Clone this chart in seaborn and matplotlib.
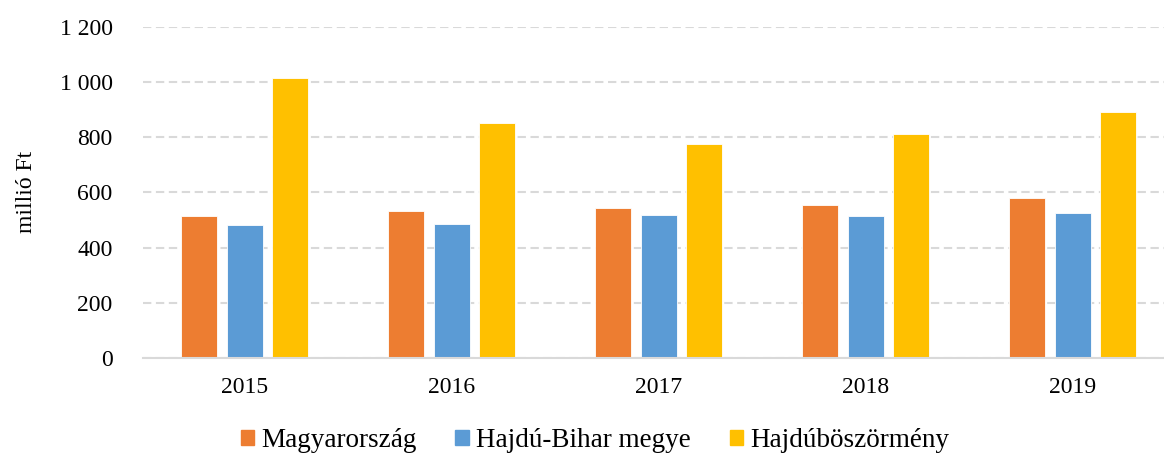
import matplotlib
matplotlib.use("Agg")
import matplotlib.pyplot as plt
import matplotlib.patches as mpatches
import pandas as pd
import seaborn as sns

# ── Data ────────────────────────────────────────────────────────────────────
YEARS = ["2015", "2016", "2017", "2018", "2019"]
SERIES = ["Magyarország", "Hajdú-Bihar megye", "Hajdúböszörmény"]
MAGYARORSZAG = [516, 533, 545, 553, 580]
HAJDU_BIHAR = [482, 487, 519, 516, 524]
HAJDUBOSZORMENY = [1016, 853, 774, 813, 893]

# ── Palette ─────────────────────────────────────────────────────────────────
ORANGE = "#ED7D31"
BLUE = "#5B9BD5"
GOLD = "#FFC000"
GRID = "#D9D9D9"
COLORS = [ORANGE, BLUE, GOLD]

sns.set_theme(style="white")
plt.rcParams["font.family"] = ["Liberation Serif", "DejaVu Serif"]
plt.rcParams["text.color"] = "black"

df = pd.DataFrame({
    "year": YEARS * 3,
    "series": [s for s in SERIES for _ in YEARS],
    "value": MAGYARORSZAG + HAJDU_BIHAR + HAJDUBOSZORMENY,
})

fig = plt.figure(figsize=(11.64, 4.54), dpi=100, facecolor="white")
ax = fig.add_axes([0.1229, 0.212, 0.8771, 0.7285])

sns.barplot(data=df, x="year", y="value", hue="series", order=YEARS,
            hue_order=SERIES, palette=COLORS, saturation=1, width=0.66,
            gap=0.21, edgecolor="white", linewidth=0.6, legend=False, ax=ax)

ax.set_ylim(0, 1200)
ax.set_xlim(-0.49, 4.44)
ax.set_yticks(range(0, 1201, 200))
ax.set_yticklabels([f"{v:,}".replace(",", " ") for v in range(0, 1201, 200)])
ax.yaxis.grid(True, color=GRID, linestyle=(0, (4, 2.2)), linewidth=1.5)
ax.set_axisbelow(True)

for side in ["top", "right", "left"]:
    ax.spines[side].set_visible(False)
ax.spines["bottom"].set_color(GRID)
ax.spines["bottom"].set_linewidth(1.5)

ax.tick_params(axis="both", length=0, labelsize=17, colors="black")
ax.tick_params(axis="x", pad=14)
ax.tick_params(axis="y", pad=22)
ax.set_xlabel("")
ax.set_ylabel("millió Ft", fontsize=17, labelpad=16, color="black")

handles = [mpatches.Patch(color=c, label=s) for c, s in zip(COLORS, SERIES)]
fig.legend(handles=handles, loc="center", bbox_to_anchor=(0.511, 0.03),
           ncol=3, frameon=False, fontsize=19.5, handlelength=0.5,
           handleheight=0.5, handletextpad=0.25, columnspacing=1.45)

fig.savefig("out.png", dpi=100, facecolor="white")
plt.close(fig)
